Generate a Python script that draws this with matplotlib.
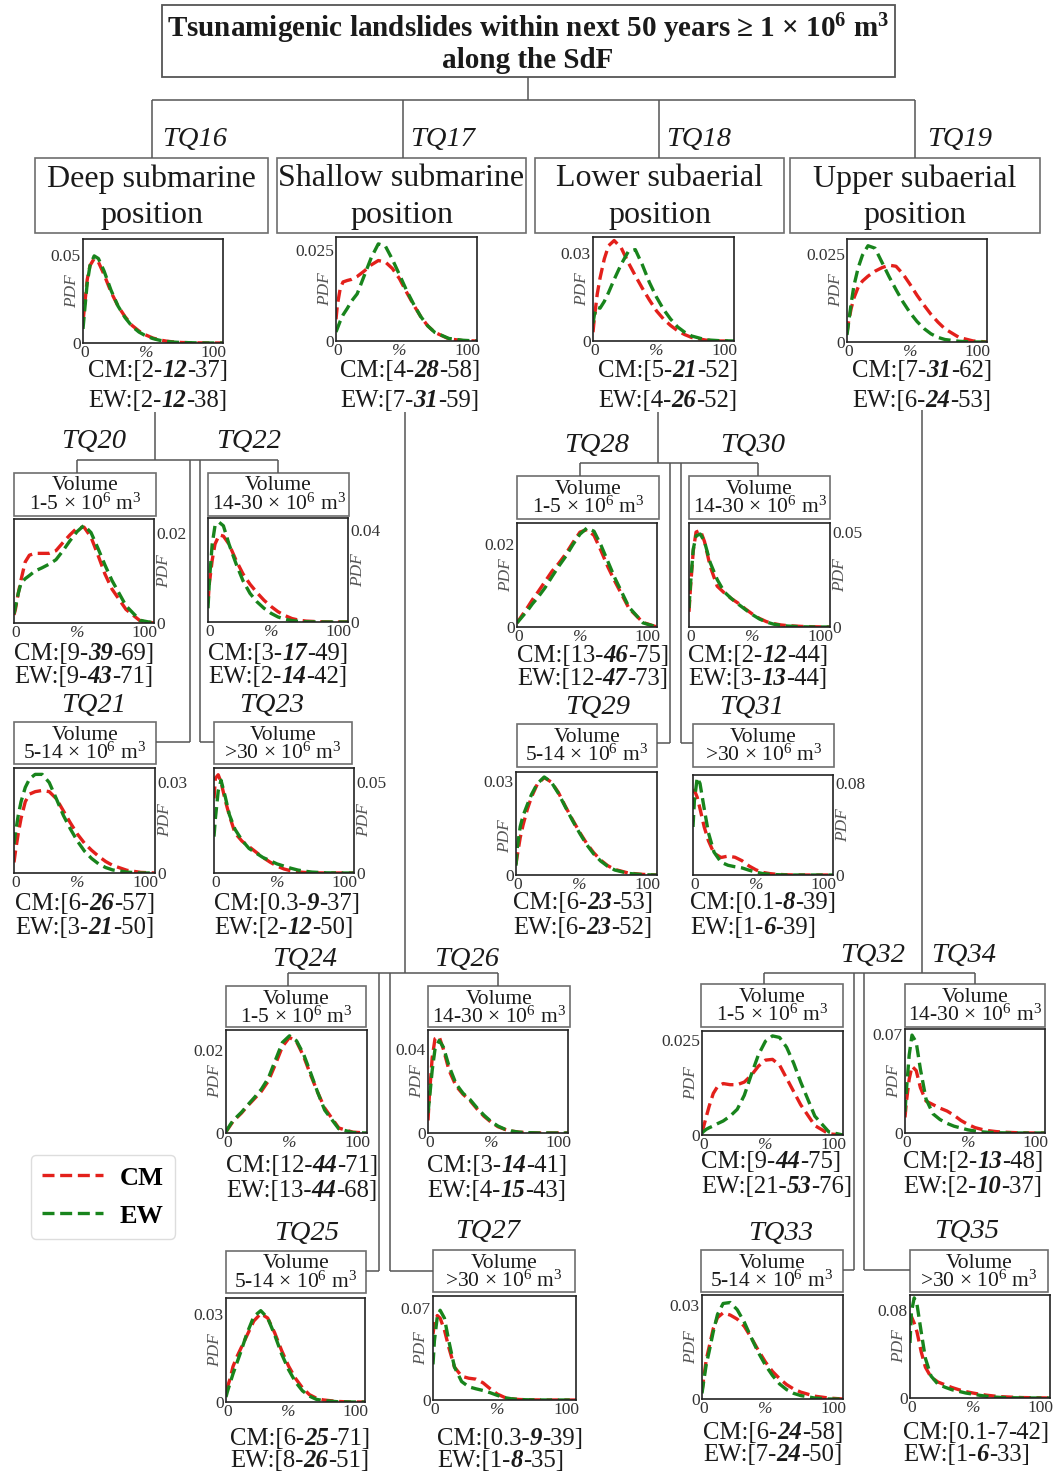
import matplotlib
matplotlib.use('Agg')
import matplotlib.pyplot as plt
from matplotlib.patches import Rectangle

W, H = 1056, 1472
SERIF = ['Liberation Serif', 'DejaVu Serif']
plt.rcParams['font.family'] = SERIF
plt.rcParams['axes.unicode_minus'] = False
plt.rcParams['mathtext.fontset'] = 'custom'
plt.rcParams['mathtext.rm'] = 'Liberation Serif'
plt.rcParams['mathtext.it'] = 'Liberation Serif:italic'
plt.rcParams['mathtext.bf'] = 'Liberation Serif:bold'

# ---------------- data (PDF values) ----------------
pct = [0, 1, 3, 5, 8, 11, 15, 20, 25, 30, 35, 40, 45, 50, 55, 60, 65, 70, 80, 90, 100]

tq16_cm = [0.012, 0.02, 0.036, 0.044, 0.048, 0.046, 0.039, 0.029, 0.021, 0.015, 0.010, 0.0068, 0.0045, 0.0028, 0.0017, 0.001, 0.0006, 0.0003, 0.0001, 0, 0]
tq16_ew = [0.008, 0.017, 0.034, 0.044, 0.0495, 0.048, 0.041, 0.030, 0.021, 0.0145, 0.0095, 0.0062, 0.004, 0.0025, 0.0015, 0.0009, 0.0005, 0.0003, 0.0001, 0, 0]
tq17_cm = [0.006, 0.010, 0.0145, 0.0163, 0.0167, 0.0170, 0.0178, 0.0193, 0.0210, 0.0222, 0.0218, 0.0200, 0.0172, 0.0135, 0.0100, 0.0068, 0.0042, 0.0024, 0.0006, 0.0001, 0]
tq17_ew = [0.0025, 0.0035, 0.0055, 0.0072, 0.0090, 0.0110, 0.0130, 0.0180, 0.0230, 0.0268, 0.0262, 0.0225, 0.0183, 0.0140, 0.0102, 0.0068, 0.0042, 0.0024, 0.0007, 0.0002, 0]
tq18_cm = [0.003, 0.008, 0.016, 0.0215, 0.028, 0.0325, 0.0343, 0.0318, 0.0268, 0.0223, 0.0180, 0.0140, 0.0103, 0.0075, 0.0053, 0.0035, 0.0022, 0.0012, 0.0003, 0, 0]
tq18_ew = [0.006, 0.009, 0.0115, 0.0112, 0.0135, 0.0165, 0.021, 0.0262, 0.0305, 0.0312, 0.0260, 0.0200, 0.0150, 0.0108, 0.0075, 0.0048, 0.0030, 0.0017, 0.0004, 0.0001, 0]
tq19_cm = [0.0025, 0.0055, 0.0095, 0.0125, 0.0155, 0.0172, 0.0186, 0.0200, 0.0210, 0.0217, 0.0214, 0.0192, 0.0163, 0.0132, 0.0104, 0.0078, 0.0056, 0.0037, 0.0013, 0.0003, 0]
tq19_ew = [0.002, 0.005, 0.011, 0.016, 0.021, 0.0245, 0.0272, 0.0265, 0.0225, 0.0185, 0.0148, 0.0113, 0.0083, 0.0058, 0.0038, 0.0023, 0.0013, 0.0007, 0.0002, 0, 0]
tq20_cm = [0.0018, 0.003, 0.0065, 0.0095, 0.0135, 0.0150, 0.0154, 0.0154, 0.0154, 0.0160, 0.0178, 0.0195, 0.0210, 0.0212, 0.0190, 0.0150, 0.0108, 0.0075, 0.0030, 0.0005, 0]
tq20_ew = [0.002, 0.0035, 0.0065, 0.0088, 0.0098, 0.0105, 0.0115, 0.0122, 0.0130, 0.0140, 0.0160, 0.0182, 0.0202, 0.0216, 0.0200, 0.0165, 0.0128, 0.0094, 0.0038, 0.0006, 0]
tq22_cm = [0.0085, 0.017, 0.027, 0.034, 0.038, 0.0375, 0.034, 0.027, 0.021, 0.0165, 0.0128, 0.0095, 0.0068, 0.0045, 0.0028, 0.0015, 0.0008, 0.0004, 0.0001, 0, 0]
tq22_ew = [0.006, 0.018, 0.034, 0.042, 0.0435, 0.042, 0.034, 0.0255, 0.018, 0.0125, 0.0088, 0.006, 0.0038, 0.0022, 0.0012, 0.0006, 0.0003, 0.0001, 0, 0, 0]
tq21_cm = [0.0035, 0.007, 0.013, 0.018, 0.0235, 0.026, 0.0268, 0.0272, 0.0268, 0.0245, 0.0205, 0.0165, 0.0128, 0.0098, 0.0075, 0.0055, 0.0038, 0.0025, 0.0009, 0.0002, 0]
tq21_ew = [0.0095, 0.013, 0.019, 0.0235, 0.0282, 0.031, 0.0325, 0.0325, 0.0298, 0.0245, 0.019, 0.0145, 0.0105, 0.0072, 0.0048, 0.003, 0.0018, 0.001, 0.0003, 0, 0]
tq23_cm = [0.041, 0.052, 0.054, 0.050, 0.040, 0.0315, 0.022, 0.0175, 0.0145, 0.0115, 0.0085, 0.006, 0.0038, 0.0022, 0.0012, 0.0006, 0.0003, 0.0001, 0, 0, 0]
tq23_ew = [0.020, 0.030, 0.045, 0.051, 0.042, 0.032, 0.024, 0.018, 0.0135, 0.011, 0.0085, 0.0068, 0.005, 0.0038, 0.0026, 0.0016, 0.001, 0.0005, 0.0001, 0, 0]
tq28_cm = [0.001, 0.0015, 0.0025, 0.0035, 0.005, 0.0066, 0.0085, 0.011, 0.0135, 0.0155, 0.0178, 0.0205, 0.023, 0.0236, 0.0222, 0.0185, 0.0145, 0.011, 0.0045, 0.0011, 0]
tq28_ew = [0.001, 0.0014, 0.0022, 0.003, 0.0042, 0.0056, 0.0072, 0.0095, 0.0122, 0.0148, 0.0172, 0.0200, 0.0225, 0.0240, 0.0232, 0.0198, 0.0158, 0.0118, 0.0048, 0.0010, 0]
tq30_cm = [0.008, 0.020, 0.040, 0.050, 0.051, 0.045, 0.032, 0.0215, 0.018, 0.015, 0.0125, 0.0095, 0.0068, 0.0045, 0.0028, 0.0018, 0.0011, 0.0007, 0.0003, 0.0001, 0]
tq30_ew = [0.010, 0.022, 0.041, 0.048, 0.049, 0.045, 0.034, 0.025, 0.0185, 0.015, 0.012, 0.0092, 0.0065, 0.0042, 0.0026, 0.0015, 0.0009, 0.0005, 0.0001, 0, 0]
tq29_cm = [0.0035, 0.0065, 0.012, 0.016, 0.021, 0.025, 0.029, 0.0312, 0.0298, 0.0265, 0.022, 0.0178, 0.0138, 0.0102, 0.0072, 0.0048, 0.003, 0.0018, 0.0006, 0.0002, 0]
tq29_ew = [0.003, 0.009, 0.0155, 0.019, 0.0225, 0.0258, 0.0292, 0.0314, 0.0298, 0.0262, 0.0218, 0.0175, 0.0135, 0.0098, 0.0068, 0.0045, 0.0028, 0.0016, 0.0005, 0.0001, 0]
tq31_cm = [0.072, 0.074, 0.068, 0.058, 0.042, 0.030, 0.019, 0.0153, 0.0165, 0.0155, 0.0125, 0.0079, 0.0045, 0.0022, 0.0012, 0.0006, 0.0003, 0.0001, 0, 0, 0]
tq31_ew = [0.042, 0.065, 0.085, 0.080, 0.058, 0.037, 0.020, 0.0112, 0.0085, 0.0072, 0.0062, 0.0042, 0.0025, 0.0012, 0.0006, 0.0003, 0.0001, 0, 0, 0, 0]
tq24_cm = [0.0003, 0.0008, 0.0018, 0.0028, 0.0038, 0.0048, 0.0064, 0.0082, 0.0100, 0.0125, 0.0165, 0.0208, 0.0230, 0.0220, 0.0185, 0.0140, 0.0098, 0.0060, 0.0012, 0.0002, 0]
tq24_ew = [0.0003, 0.0009, 0.002, 0.003, 0.004, 0.005, 0.0066, 0.0085, 0.0105, 0.0132, 0.0175, 0.0218, 0.0234, 0.0222, 0.0190, 0.0145, 0.0098, 0.0055, 0.0010, 0.0001, 0]
tq26_cm = [0.006, 0.018, 0.036, 0.045, 0.046, 0.040, 0.030, 0.0225, 0.0185, 0.0155, 0.0115, 0.008, 0.0052, 0.003, 0.0017, 0.0009, 0.0004, 0.0002, 0, 0, 0]
tq26_ew = [0.0095, 0.016, 0.030, 0.040, 0.0442, 0.041, 0.032, 0.0235, 0.019, 0.016, 0.012, 0.0085, 0.0055, 0.0033, 0.0018, 0.0009, 0.0004, 0.0002, 0, 0, 0]
tq25_cm = [0.004, 0.005, 0.008, 0.012, 0.0155, 0.0185, 0.0225, 0.0275, 0.0300, 0.0285, 0.0235, 0.0175, 0.0122, 0.0080, 0.0048, 0.0025, 0.0013, 0.0007, 0.0002, 0, 0]
tq25_ew = [0.0017, 0.0035, 0.0065, 0.0095, 0.0135, 0.0175, 0.0232, 0.0290, 0.0310, 0.0285, 0.0228, 0.0163, 0.0110, 0.0068, 0.0038, 0.0020, 0.0009, 0.0005, 0.0001, 0, 0]
tq27_cm = [0.050, 0.058, 0.064, 0.062, 0.053, 0.040, 0.025, 0.018, 0.0165, 0.0158, 0.013, 0.0085, 0.0045, 0.002, 0.0009, 0.0004, 0.0002, 0.0001, 0, 0, 0]
tq27_ew = [0.027, 0.045, 0.063, 0.068, 0.062, 0.045, 0.025, 0.014, 0.010, 0.0085, 0.0072, 0.0055, 0.0035, 0.0018, 0.0009, 0.0004, 0.0002, 0.0001, 0, 0, 0]
tq32_cm = [0.0008, 0.002, 0.0048, 0.0075, 0.011, 0.0128, 0.0136, 0.0133, 0.0133, 0.0140, 0.0158, 0.0182, 0.0198, 0.0200, 0.0185, 0.0150, 0.0115, 0.0080, 0.0025, 0.0003, 0]
tq32_ew = [0.0005, 0.0009, 0.0015, 0.0019, 0.0024, 0.0030, 0.0037, 0.0050, 0.0068, 0.0105, 0.0160, 0.0212, 0.0248, 0.0262, 0.0258, 0.0232, 0.0190, 0.0140, 0.0050, 0.0008, 0]
tq34_cm = [0.011, 0.022, 0.038, 0.047, 0.044, 0.032, 0.0225, 0.020, 0.0175, 0.0155, 0.0125, 0.0088, 0.0060, 0.0038, 0.0025, 0.0016, 0.001, 0.0006, 0.0002, 0, 0]
tq34_ew = [0.015, 0.030, 0.055, 0.069, 0.064, 0.045, 0.024, 0.0135, 0.0095, 0.0068, 0.0048, 0.0035, 0.0022, 0.0014, 0.0008, 0.0004, 0.0002, 0.0001, 0, 0, 0]
tq33_cm = [0.0024, 0.006, 0.0125, 0.0165, 0.0225, 0.026, 0.0275, 0.0268, 0.0255, 0.0232, 0.0195, 0.0155, 0.0118, 0.0088, 0.0065, 0.0046, 0.0032, 0.0022, 0.0009, 0.0003, 0]
tq33_ew = [0.0018, 0.005, 0.011, 0.015, 0.0215, 0.027, 0.0305, 0.0308, 0.0285, 0.0245, 0.0195, 0.0148, 0.0108, 0.0075, 0.0048, 0.0030, 0.0018, 0.0011, 0.0003, 0, 0]
tq35_cm = [0.071, 0.074, 0.068, 0.060, 0.042, 0.028, 0.019, 0.0145, 0.012, 0.0095, 0.0075, 0.0058, 0.0045, 0.0034, 0.0025, 0.0018, 0.0012, 0.0009, 0.0004, 0.0002, 0]
tq35_ew = [0.050, 0.078, 0.091, 0.085, 0.060, 0.036, 0.020, 0.0125, 0.0098, 0.0075, 0.006, 0.0045, 0.0035, 0.0024, 0.0015, 0.0009, 0.0005, 0.0003, 0.0001, 0, 0]

panel_names = ['TQ16', 'TQ17', 'TQ18', 'TQ19', 'TQ20', 'TQ22', 'TQ21', 'TQ23',
               'TQ28', 'TQ30', 'TQ29', 'TQ31', 'TQ24', 'TQ26', 'TQ25', 'TQ27',
               'TQ32', 'TQ34', 'TQ33', 'TQ35']
cm_curves = [tq16_cm, tq17_cm, tq18_cm, tq19_cm, tq20_cm, tq22_cm, tq21_cm, tq23_cm,
             tq28_cm, tq30_cm, tq29_cm, tq31_cm, tq24_cm, tq26_cm, tq25_cm, tq27_cm,
             tq32_cm, tq34_cm, tq33_cm, tq35_cm]
ew_curves = [tq16_ew, tq17_ew, tq18_ew, tq19_ew, tq20_ew, tq22_ew, tq21_ew, tq23_ew,
             tq28_ew, tq30_ew, tq29_ew, tq31_ew, tq24_ew, tq26_ew, tq25_ew, tq27_ew,
             tq32_ew, tq34_ew, tq33_ew, tq35_ew]
cm_stats = ['2-12-37', '4-28-58', '5-21-52', '7-31-62', '9-39-69', '3-17-49', '6-26-57', '0.3-9-37',
            '13-46-75', '2-12-44', '6-23-53', '0.1-8-39', '12-44-71', '3-14-41', '6-25-71', '0.3-9-39',
            '9-44-75', '2-13-48', '6-24-58', '0.1-7-42']
ew_stats = ['2-12-38', '7-31-59', '4-26-52', '6-24-53', '9-43-71', '2-14-42', '3-21-50', '2-12-50',
            '12-47-73', '3-13-44', '6-23-52', '1-6-39', '13-44-68', '4-15-43', '8-26-51', '1-8-35',
            '21-53-76', '2-10-37', '7-24-50', '1-6-33']
ytick_top = [0.05, 0.025, 0.03, 0.025, 0.02, 0.04, 0.03, 0.05,
             0.02, 0.05, 0.03, 0.08, 0.02, 0.04, 0.03, 0.07,
             0.025, 0.07, 0.03, 0.08]
header_labels = ['Deep submarine\nposition', 'Shallow submarine\nposition',
                 'Lower subaerial\nposition', 'Upper subaerial\nposition']
volume_labels = ['1-5', '14-30', '5-14', '>30', '1-5', '14-30', '5-14', '>30',
                 '1-5', '14-30', '5-14', '>30', '1-5', '14-30', '5-14', '>30']
title_lines = ['Tsunamigenic landslides within next 50 years \u2265 1 \u00d7 10$^{\\mathbf{6}}$ m$^{\\mathbf{3}}$',
               'along the SdF']
series_names = ['CM', 'EW']

# ---------------- layout (pixel positions) ----------------
LAYOUT = {
    'TQ16': dict(ax=(83, 239, 223, 343), side='left', ymax=0.0591, cap=(88, 377, 407), lab=(195, 139), box=(35, 158, 268, 233)),
    'TQ17': dict(ax=(336, 237, 477, 341), side='left', ymax=0.0287, cap=(340, 377, 407), lab=(443, 139), box=(277, 158, 526, 233)),
    'TQ18': dict(ax=(593, 237, 734, 341), side='left', ymax=0.0355, cap=(598, 377, 407), lab=(699, 139), box=(535, 158, 784, 233)),
    'TQ19': dict(ax=(847, 239, 987, 342), side='left', ymax=0.0291, cap=(852, 377, 407), lab=(960, 139), box=(790, 158, 1040, 233)),
    'TQ20': dict(ax=(14, 519, 154, 623), side='right', ymax=0.0230, cap=(14, 660, 683), lab=(94, 442), box=(14, 473, 156, 516)),
    'TQ22': dict(ax=(208, 518, 348, 622), side='right', ymax=0.0454, cap=(208, 660, 683), lab=(249, 442), box=(208, 473, 349, 516)),
    'TQ21': dict(ax=(14, 768, 155, 873), side='right', ymax=0.0346, cap=(15, 910, 934), lab=(94, 706), box=(14, 722, 156, 764)),
    'TQ23': dict(ax=(214, 768, 354, 873), side='right', ymax=0.0577, cap=(214, 910, 934), lab=(272, 705), box=(214, 722, 352, 764)),
    'TQ28': dict(ax=(517, 523, 657, 627), side='left', ymax=0.0252, cap=(517, 662, 685), lab=(597, 446), box=(517, 476, 659, 519)),
    'TQ30': dict(ax=(689, 523, 830, 627), side='right', ymax=0.0548, cap=(688, 662, 685), lab=(753, 446), box=(689, 476, 830, 519)),
    'TQ29': dict(ax=(516, 772, 657, 875), side='left', ymax=0.0330, cap=(513, 909, 934), lab=(598, 708), box=(517, 724, 657, 767)),
    'TQ31': dict(ax=(693, 775, 833, 875), side='right', ymax=0.0874, cap=(690, 909, 934), lab=(752, 708), box=(693, 724, 834, 767)),
    'TQ24': dict(ax=(226, 1030, 367, 1133), side='left', ymax=0.0248, cap=(226, 1172, 1197), lab=(305, 959), box=(226, 986, 366, 1027)),
    'TQ26': dict(ax=(428, 1030, 568, 1133), side='left', ymax=0.0492, cap=(427, 1172, 1197), lab=(467, 959), box=(428, 986, 570, 1027)),
    'TQ25': dict(ax=(226, 1298, 365, 1402), side='left', ymax=0.0353, cap=(230, 1445, 1467), lab=(307, 1233), box=(226, 1251, 366, 1293)),
    'TQ27': dict(ax=(433, 1296, 576, 1400), side='left', ymax=0.0788, cap=(437, 1445, 1467), lab=(488, 1231), box=(433, 1250, 575, 1292)),
    'TQ32': dict(ax=(702, 1031, 843, 1135), side='left', ymax=0.0275, cap=(701, 1168, 1193), lab=(873, 956), box=(701, 984, 843, 1027)),
    'TQ34': dict(ax=(905, 1029, 1045, 1133), side='left', ymax=0.0733, cap=(903, 1168, 1193), lab=(964, 956), box=(905, 984, 1045, 1027)),
    'TQ33': dict(ax=(702, 1295, 843, 1399), side='left', ymax=0.0332, cap=(703, 1439, 1461), lab=(781, 1233), box=(701, 1250, 843, 1292)),
    'TQ35': dict(ax=(910, 1295, 1050, 1398), side='left', ymax=0.0936, cap=(903, 1439, 1461), lab=(967, 1231), box=(910, 1250, 1048, 1292)),
}

CONNECTORS = [
    ((528, 77), (528, 100)), ((152, 100), (915, 100)),
    ((152, 100), (152, 158)), ((403, 100), (403, 158)), ((659, 100), (659, 158)), ((915, 100), (915, 158)),
    ((155, 412), (155, 460)), ((77, 460), (278, 460)), ((77, 460), (77, 473)), ((278, 460), (278, 473)),
    ((190, 460), (190, 742)), ((200, 460), (200, 742)), ((156, 742), (190, 742)), ((200, 742), (214, 742)),
    ((405, 412), (405, 973)), ((288, 973), (498, 973)), ((288, 973), (288, 986)), ((498, 973), (498, 986)),
    ((379, 973), (379, 1271)), ((390, 973), (390, 1271)), ((366, 1271), (379, 1271)), ((390, 1271), (433, 1271)),
    ((658, 412), (658, 463)), ((580, 463), (758, 463)), ((580, 463), (580, 476)), ((758, 463), (758, 476)),
    ((670, 463), (670, 743)), ((681, 463), (681, 743)), ((657, 743), (670, 743)), ((681, 743), (693, 743)),
    ((922, 410), (922, 973)), ((764, 973), (975, 973)), ((764, 973), (764, 984)), ((975, 973), (975, 984)),
    ((854, 973), (854, 1270)), ((864, 973), (864, 1270)), ((843, 1270), (854, 1270)), ((864, 1270), (910, 1270)),
]

RED = '#e3201b'
GREEN = '#18841c'
TXT = '#1a1a1a'
LINEC = '#555555'
BOXC = '#6e6e6e'
DASH = (0, (3.6, 1.7))
CAP_FS = 17.8

fig = plt.figure(figsize=(W / 100, H / 100), dpi=100)
ov = fig.add_axes([0, 0, 1, 1])
ov.set_xlim(0, W)
ov.set_ylim(H, 0)
ov.axis('off')

# title
ov.add_patch(Rectangle((162, 5), 733, 72, fill=False, ec=LINEC, lw=1.3))
ov.text(528, 29, title_lines[0], ha='center', va='center', fontsize=21, fontweight='bold', color=TXT)
ov.text(528, 61, title_lines[1], ha='center', va='center', fontsize=21, fontweight='bold', color=TXT)

for (a, b) in CONNECTORS:
    ov.plot([a[0], b[0]], [a[1], b[1]], color=LINEC, lw=1.1, solid_capstyle='butt')


def caption(x, yb, key, st, plain=False):
    lo, mode, hi = st.split('-')
    t1 = ov.text(x, yb, f'{key}:[{lo}-', fontsize=CAP_FS, ha='left', va='baseline', color=TXT)
    t2 = ov.annotate(mode, xy=(1, 0), xycoords=t1, ha='left', va='bottom', fontsize=CAP_FS,
                     fontweight='normal' if plain else 'bold',
                     fontstyle='normal' if plain else 'italic', color=TXT)
    ov.annotate(f'-{hi}]', xy=(1, 0), xycoords=t2, ha='left', va='bottom', fontsize=CAP_FS, color=TXT)


legend_handles = None
for i, name in enumerate(panel_names):
    L = LAYOUT[name]
    ov.text(L['lab'][0], L['lab'][1], name, ha='center', va='center', fontsize=20.5,
            fontstyle='italic', color=TXT)
    bx0, by0, bx1, by1 = L['box']
    ov.add_patch(Rectangle((bx0, by0), bx1 - bx0, by1 - by0, fill=False, ec=BOXC, lw=1.2))
    cx = (bx0 + bx1) / 2
    if i < 4:
        l1, l2 = header_labels[i].split('\n')
        ov.text(cx, by0 + 21, l1, ha='center', va='center', fontsize=23, color=TXT)
        ov.text(cx, by0 + 57, l2, ha='center', va='center', fontsize=23, color=TXT)
    else:
        ov.text(cx, by0 + 13, 'Volume', ha='center', va='center', fontsize=15.5, color=TXT)
        ov.text(cx, by0 + 31, volume_labels[i - 4] + r' $\times$ 10$^6$ m$^3$', ha='center',
                va='center', fontsize=15.5, color=TXT)
    cxp, ycm, yew = L['cap']
    caption(cxp, ycm, series_names[0], cm_stats[i], plain=(name == 'TQ35'))
    caption(cxp, yew, series_names[1], ew_stats[i])

    x0, y0, x1, y1 = L['ax']
    ax = fig.add_axes([x0 / W, 1 - y1 / H, (x1 - x0) / W, (y1 - y0) / H])
    h1, = ax.plot(pct, cm_curves[i], color=RED, lw=2.4, ls=DASH, label=series_names[0])
    h2, = ax.plot(pct, ew_curves[i], color=GREEN, lw=2.4, ls=DASH, label=series_names[1])
    if legend_handles is None:
        legend_handles = [h1, h2]
    ax.set_xlim(0, 100)
    ax.set_ylim(0, L['ymax'])
    ax.set_xticks([1, 45, 93])
    ax.set_xticklabels(['0', '%', '100'])
    ax.get_xticklabels()[1].set_fontstyle('italic')
    ax.set_yticks([0, ytick_top[i]])
    ax.set_yticklabels(['0', str(ytick_top[i])])
    ax.tick_params(length=0, pad=1.5, labelsize=12.5, colors='#333333')
    for sp in ax.spines.values():
        sp.set_linewidth(1.2)
        sp.set_color('#222222')
    if L['side'] == 'right':
        ax.yaxis.tick_right()
        px = 1.075
    else:
        px = -0.08
    py = 0.38 if name == 'TQ29' else 0.5
    ax.text(px, py, 'PDF', transform=ax.transAxes, rotation=90, ha='center', va='center',
            fontsize=12.5, fontstyle='italic', color='#555555')

fig.legend(handles=legend_handles, labels=series_names, loc='upper left',
           bbox_to_anchor=(31 / W, 1 - 1155 / H), frameon=True, fancybox=True,
           prop={'family': SERIF, 'weight': 'bold', 'size': 19}, handlelength=2.3,
           handletextpad=0.65, labelspacing=0.55, borderpad=0.42, borderaxespad=0,
           edgecolor='#dddddd', framealpha=1)

fig.savefig('out.png', dpi=100)
